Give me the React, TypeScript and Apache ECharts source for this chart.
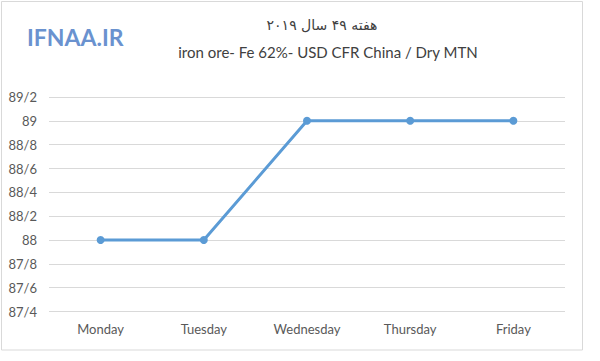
import React, { useEffect, useRef } from "react";
import * as echarts from "echarts";

const categories = ["Monday", "Tuesday", "Wednesday", "Thursday", "Friday"];
const prices = [88, 88, 89, 89, 89];
const titleFa = "هفته ۴۹ سال ۲۰۱۹";
const titleEn = "iron ore- Fe 62%- USD CFR China / Dry MTN";
const logoText = "IFNAA.IR";

export default function App() {
  const ref = useRef<HTMLDivElement>(null);
  useEffect(() => {
    document.body.style.margin = "0";
    const chart = echarts.init(ref.current!, null, { renderer: "svg" });
    chart.setOption({
      animation: false,
      backgroundColor: "#ffffff",
      textStyle: { fontFamily: "Lato, 'Open Sans', sans-serif" },
      grid: { left: 49, right: 35, top: 97, bottom: 49.5 },
      graphic: [
        {
          type: "rect",
          shape: { x: 1.5, y: 1.5, width: 581, height: 348.5 },
          style: { fill: "none", stroke: "#d9d9d9", lineWidth: 1 },
        },
        {
          type: "text",
          x: 27,
          y: 37,
          style: {
            text: logoText,
            fontSize: 23,
            fontWeight: "bold",
            fontFamily: "Lato, sans-serif",
            fill: "#6a92cf",
            textVerticalAlign: "middle",
            shadowColor: "rgba(0,0,0,0.25)",
            shadowBlur: 2,
            shadowOffsetX: 1,
            shadowOffsetY: 1,
          },
        },
        {
          type: "text",
          x: 322,
          y: 25,
          style: {
            text: titleFa,
            fontSize: 14,
            fontFamily: "'DejaVu Sans', 'Noto Sans', sans-serif",
            fill: "#404040",
            textAlign: "center",
            textVerticalAlign: "middle",
          },
        },
        {
          type: "text",
          x: 328,
          y: 52,
          style: {
            text: titleEn,
            fontSize: 15,
            fontFamily: "Lato, sans-serif",
            fill: "#404040",
            textAlign: "center",
            textVerticalAlign: "middle",
          },
        },
      ],
      xAxis: {
        type: "category",
        data: categories,
        boundaryGap: true,
        axisLine: { show: false },
        axisTick: { show: false },
        axisLabel: { color: "#595959", fontSize: 13, margin: 11 },
      },
      yAxis: {
        type: "value",
        min: 87.4,
        max: 89.2,
        interval: 0.2,
        axisLine: { show: false },
        axisTick: { show: false },
        splitLine: { lineStyle: { color: "#d9d9d9", width: 1 } },
        axisLabel: {
          color: "#595959",
          fontSize: 13,
          margin: 12,
          formatter: (v: number) => String(Math.round(v * 10) / 10).replace(".", "/"),
        },
      },
      series: [
        {
          type: "line",
          data: prices,
          symbol: "circle",
          symbolSize: 8,
          lineStyle: { color: "#5b9bd5", width: 3 },
          itemStyle: { color: "#5b9bd5" },
        },
      ],
    });
    return () => chart.dispose();
  }, []);
  return <div ref={ref} style={{ width: 600, height: 361 }} />;
}
